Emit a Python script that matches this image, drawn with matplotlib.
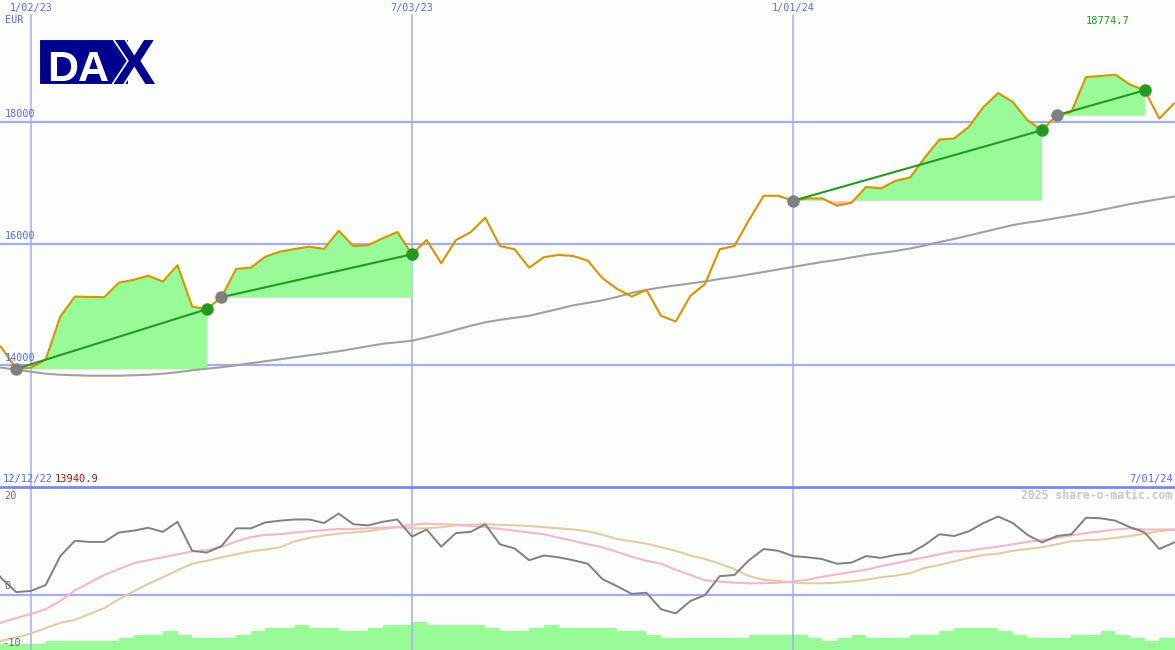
import numpy as np
import pandas as pd
import matplotlib
matplotlib.use("Agg")
import matplotlib.pyplot as plt
import matplotlib.patheffects as pe
from matplotlib.patches import Rectangle

# weekly points, Monday 12 Dec 2022 .. Monday 1 Jul 2024
weeks = pd.date_range("2022-12-12", periods=82, freq="7D")

price = [
    14500, 14287, 13940.9, 13959, 14090, 14800, 15128, 15123, 15118, 15357,
    15402, 15472, 15374, 15643, 14964, 14921, 15118, 15582, 15603, 15784,
    15866, 15910, 15948, 15910, 16210, 15959, 15971, 16085, 16189, 15823,
    16057, 15675, 16057, 16184, 16423, 15959, 15905, 15603, 15774, 15812,
    15795, 15718, 15430, 15254, 15128, 15238, 14812, 14718, 15139, 15336,
    15905, 15959, 16385, 16784, 16784, 16702, 16741, 16741, 16620, 16669,
    16931, 16905, 17030, 17085, 17413, 17708, 17725, 17915, 18243, 18472,
    18325, 18025, 17861, 18107, 18161, 18734, 18751, 18774.7, 18610, 18516,
    18052, 18298,
]

moving_avg = [
    13990, 13960, 13926, 13894, 13861, 13844, 13836, 13828, 13828, 13828,
    13836, 13844, 13861, 13885, 13918, 13943, 13967, 14000, 14033, 14066,
    14098, 14131, 14164, 14197, 14230, 14271, 14312, 14353, 14377, 14402,
    14459, 14516, 14582, 14648, 14705, 14746, 14779, 14812, 14869, 14926,
    14984, 15025, 15066, 15123, 15189, 15238, 15279, 15312, 15344, 15377,
    15418, 15451, 15492, 15533, 15574, 15615, 15656, 15697, 15730, 15771,
    15812, 15844, 15877, 15918, 15967, 16025, 16074, 16131, 16189, 16246,
    16303, 16344, 16377, 16418, 16459, 16500, 16549, 16598, 16648, 16689,
    16730, 16771,
]

momentum = [
    6.0, 2.8,
    0.5, 0.7, 1.7, 6.6, 9.2, 9.0, 9.0, 10.6, 10.9, 11.4,
    10.7, 12.4, 7.5, 7.2, 8.3, 11.3, 11.3, 12.3, 12.6, 12.8,
    12.8, 12.2, 13.8, 12.0, 11.8, 12.4, 12.8, 9.9, 11.1, 8.2,
    10.5, 10.7, 12.0, 8.6, 7.9, 5.9, 6.7, 6.4, 5.9, 5.3,
    2.7, 1.5, 0.2, 0.4, -2.4, -3.1, -1.0, 0.0, 3.2, 3.4,
    5.9, 7.8, 7.5, 6.6, 6.4, 6.1, 5.3, 5.5, 6.6, 6.3,
    6.8, 7.1, 8.5, 10.3, 10.0, 10.8, 12.2, 13.3, 12.2, 10.2,
    8.9, 10.0, 10.3, 13.1, 13.0, 12.6, 11.5, 10.6, 7.8, 8.9,
]

signal_fast = [
    -5.6, -4.6, -3.9, -3.2, -2.4, -1.0, 0.8, 2.1, 3.4, 4.4,
    5.4, 5.9, 6.4, 6.9, 7.4, 7.6, 8.1, 9.1, 9.8, 10.2,
    10.3, 10.6, 10.8, 11.0, 11.2, 11.2, 11.3, 11.4, 11.5, 11.9,
    12.1, 12.0, 11.9, 11.7, 11.5, 11.2, 10.9, 10.6, 10.3, 9.7,
    9.2, 8.6, 8.1, 7.3, 6.5, 5.8, 5.3, 4.3, 3.4, 2.5,
    2.3, 2.1, 2.0, 2.0, 2.1, 2.3, 2.6, 3.1, 3.5, 3.9,
    4.3, 4.9, 5.4, 5.9, 6.4, 6.9, 7.4, 7.5, 7.9, 8.2,
    8.6, 9.0, 9.3, 9.7, 10.1, 10.5, 10.8, 11.1, 11.3, 11.1,
    11.1, 11.1,
]

signal_slow = [
    -9.0, -7.7, -7.2, -6.5, -5.6, -4.7, -4.2, -3.2, -2.2, -0.7,
    0.6, 1.9, 3.0, 4.2, 5.3, 5.8, 6.4, 6.9, 7.4, 7.7,
    8.1, 9.1, 9.7, 10.1, 10.4, 10.6, 10.8, 11.2, 11.5, 11.3,
    11.3, 11.5, 11.8, 11.9, 12.0, 11.9, 11.8, 11.7, 11.5, 11.3,
    11.1, 10.8, 10.2, 9.5, 9.1, 8.7, 8.1, 7.5, 6.7, 6.1,
    5.3, 4.4, 3.2, 2.6, 2.4, 2.1, 2.0, 2.0, 2.1, 2.3,
    2.6, 3.0, 3.3, 3.7, 4.6, 5.1, 5.7, 6.3, 6.8, 7.0,
    7.5, 7.8, 8.1, 8.6, 9.1, 9.3, 9.4, 9.7, 10.0, 10.4,
    10.8, 11.1,
]

volume_level = [
    2, 2, 2, 2, 3, 3, 3, 3, 3, 4,
    5, 5, 6, 5, 4, 4, 4, 5, 6, 7,
    7, 8, 7, 7, 6, 6, 7, 8, 8, 9,
    8, 8, 8, 8, 7, 6, 6, 7, 8, 7,
    7, 7, 7, 6, 6, 5, 4, 4, 4, 4,
    4, 4, 5, 5, 5, 5, 4, 3, 4, 5,
    4, 4, 4, 5, 5, 6, 7, 7, 7, 6,
    5, 4, 4, 4, 5, 5, 6, 5, 4, 3,
    4, 4,
]

# (start week, end week) of each trend run
trends = [(2, 15), (16, 29), (55, 72), (73, 79)]

price_ticks = [14000, 16000, 18000]
date_lines = pd.to_datetime(["2023-01-02", "2023-07-03", "2024-01-01"])
date_labels = ["1/02/23", "7/03/23", "1/01/24"]

bg = "#fcfefc"
grid_c = "#a4acf2"
blue_txt = "#5a68f0"
mono = "DejaVu Sans Mono"

fig = plt.figure(figsize=(11.75, 6.5), dpi=100, facecolor=bg)
ax = fig.add_axes([0, 163 / 650, 1, 487 / 650], facecolor=bg)
ax2 = fig.add_axes([0, 0, 1, 163 / 650], facecolor=bg)

xlim = (weeks[0] + pd.Timedelta(days=6.2), weeks[-1] + pd.Timedelta(days=0.5))

# ---- price panel ----
price_arr = np.array(price)
for t in price_ticks:
    ax.axhline(t, color=grid_c, lw=1.6, zorder=0.5)
    ax.text(0.004, t + 40, str(t), transform=ax.get_yaxis_transform(),
            fontsize=7.3, family=mono, color=blue_txt, va="bottom", ha="left")
for d, lab in zip(date_lines, date_labels):
    ax.axvline(d, ymax=0.97, color=grid_c, lw=1.1, zorder=0.5)
    ax.text(d, 0.984, lab, transform=ax.get_xaxis_transform(),
            fontsize=7.3, family=mono, color=blue_txt, ha="center", va="center")

ax.plot(weeks, moving_avg, color="#a0a0a0", lw=1.5, zorder=2)

for i0, i1 in trends:
    xs = weeks[i0:i1 + 1]
    ys = price_arr[i0:i1 + 1]
    base = ys[0]
    ax.fill_between(xs, ys, base, where=ys >= base, interpolate=True,
                    color="#98fb98", lw=0, zorder=1)
    ax.fill_between(xs, ys, base, where=ys < base, interpolate=True,
                    color="#ffb6c1", lw=0, zorder=1)

ax.plot(weeks, price, color="#dd9000", lw=1.5, zorder=2.5)

for i0, i1 in trends:
    ax.plot([weeks[i0], weeks[i1]], [price[i0], price[i1]], color="#229922", lw=1.5, zorder=3)
    ax.plot(weeks[i0], price[i0], "o", color="#808080", ms=9, mec="none", zorder=4)
    ax.plot(weeks[i1], price[i1], "o", color="#229922", ms=9, mec="none", zorder=4)

ax.set_xlim(xlim)
ax.set_ylim(12000, 20000)
ax.set_xticks([])
ax.set_yticks([])
for s in ax.spines.values():
    s.set_visible(False)

ax.text(0.004, 0.958, "EUR", transform=ax.transAxes, fontsize=7.3, family=mono,
        color=blue_txt, ha="left", va="center")
ax.text(1108 / 1175, 0.957, f"{max(price):.1f}", transform=ax.transAxes, fontsize=7.5,
        family=mono, color="#229922", ha="center", va="center")
ax.text(0.002, 0.016, weeks[0].strftime("%m/%d/%y"), transform=ax.transAxes,
        fontsize=7.5, family=mono, color=blue_txt, ha="left", va="center")
ax.text(55 / 1175, 0.016, f"{price[2]:.1f}", transform=ax.transAxes,
        fontsize=7.5, family=mono, color="#a01818", ha="left", va="center")
ax.text(0.998, 0.016, "7/01/24", transform=ax.transAxes,
        fontsize=7.5, family=mono, color=blue_txt, ha="right", va="center")

# ---- indicator panel ----
ax2.axhline(0, color=grid_c, lw=1.6, zorder=0.5)
for d in date_lines:
    ax2.axvline(d, color=grid_c, lw=1.1, zorder=0.5)
ax2.plot(weeks, signal_slow, color="#e4cca0", lw=1.5, zorder=2)
ax2.plot(weeks, signal_fast, color="#f8b4c8", lw=1.5, zorder=2)
ax2.plot(weeks, momentum, color="#808080", lw=1.4, zorder=3)
ax2.set_xlim(xlim)
ax2.set_ylim(-9.3, 18.3)
ax2.set_xticks([])
ax2.set_yticks([])
for name, s in ax2.spines.items():
    s.set_visible(name == "top")
ax2.spines["top"].set_color("#7b88ec")
ax2.spines["top"].set_linewidth(2)

axv = ax2.twinx()
axv.bar(weeks, volume_level, width=7, align="edge", color="#98fb98", lw=0, zorder=1)
axv.set_ylim(0, 52.6)
axv.set_xlim(xlim)
axv.set_yticks([])
axv.set_xticks([])
for s in axv.spines.values():
    s.set_visible(False)
axv.patch.set_visible(True)
axv.patch.set_facecolor(bg)
ax2.patch.set_visible(False)
axv.set_zorder(0)
ax2.set_zorder(1)

ax2.text(0.004, 0.945, "20", transform=ax2.transAxes, fontsize=7.5, family=mono,
         color="#707070", ha="left", va="center")
ax2.text(0.004, 0.39, "0", transform=ax2.transAxes, fontsize=7.5, family=mono,
         color="#707070", ha="left", va="center")
ax2.text(0.002, 0.045, "-10", transform=ax2.transAxes, fontsize=7.5, family=mono,
         color="#707070", ha="left", va="center", zorder=10)
ax2.text(0.998, 0.945, "2025 share-o-matic.com", transform=ax2.transAxes, fontsize=8.3,
         family=mono, weight="bold", color="#c8c8c8", ha="right", va="center")

# ---- DAX logo ----
fig.add_artist(Rectangle((39 / 1175, 1 - 84 / 650), 89 / 1175, 45 / 650,
                         transform=fig.transFigure, facecolor="#000090",
                         edgecolor="white", lw=0.8, zorder=5))
fig.text(47 / 1175, 1 - 81 / 650, "DA", fontsize=31, weight="bold",
         family="Liberation Sans", color="white", ha="left", va="baseline", zorder=6)
fig.text(113 / 1175, 1 - 84 / 650, "X", fontsize=46, weight="bold",
         family="Liberation Sans", color="#000090", ha="left", va="baseline", zorder=6,
         path_effects=[pe.withStroke(linewidth=2.5, foreground="white")])

fig.savefig("out.png", dpi=100, facecolor=bg)
